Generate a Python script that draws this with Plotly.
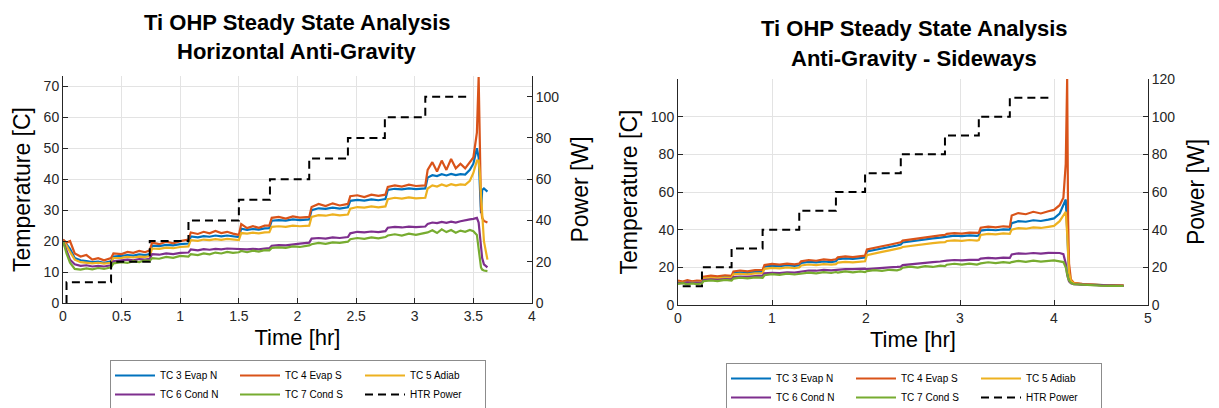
import plotly.graph_objects as go

# ---------------- Left chart: Horizontal Anti-Gravity ----------------
t_L = [0.00, 0.03, 0.06, 0.10, 0.15, 0.20, 0.25, 0.30, 0.35, 0.41,
       0.43, 0.50, 0.55, 0.60, 0.65, 0.70, 0.74, 0.76, 0.82, 0.88,
       0.94, 1.00, 1.07, 1.09, 1.15, 1.20, 1.25, 1.30, 1.35, 1.40,
       1.45, 1.50, 1.52, 1.57, 1.62, 1.67, 1.72, 1.76, 1.78, 1.84,
       1.90, 1.96, 2.02, 2.10, 2.12, 2.18, 2.24, 2.30, 2.36, 2.43,
       2.45, 2.51, 2.57, 2.63, 2.69, 2.75, 2.77, 2.83, 2.89, 2.95,
       3.01, 3.09, 3.11, 3.15, 3.19, 3.23, 3.27, 3.31, 3.35, 3.39,
       3.43, 3.47, 3.50, 3.53, 3.545, 3.555, 3.565, 3.575, 3.59, 3.62]

tc3_L = [20.5, 19.0, 17.5, 14.5, 13.8, 13.5, 13.2, 13.4, 13.0, 13.5,
         15.0, 15.2, 15.5, 15.3, 15.7, 15.5, 15.8, 18.5, 18.4, 18.8,
         18.6, 19.0, 19.2, 21.5, 21.2, 21.6, 21.4, 21.8, 21.5, 21.8,
         21.6, 21.3, 24.0, 23.6, 23.9, 23.7, 24.1, 24.2, 26.6, 26.8,
         26.6, 27.0, 26.8, 27.0, 30.0, 30.6, 30.4, 30.8, 30.5, 30.9,
         33.0, 33.3, 33.1, 33.5, 33.2, 33.6, 36.5, 36.9, 36.7, 37.0,
         36.8, 37.0, 40.5, 41.3, 41.0, 41.6, 41.2, 41.7, 41.3, 41.6,
         41.5, 43.0, 45.0, 50.0, 47.0, 40.0, 29.0, 36.5, 37.0, 36.0]

tc4_L = [20.5, 19.5, 20.0, 16.0, 15.0, 15.5, 14.0, 14.5, 13.8, 14.5,
         16.0, 15.8, 16.5, 16.2, 16.8, 16.4, 17.0, 19.5, 19.0, 19.8,
         19.3, 20.0, 20.5, 22.8, 22.3, 23.0, 22.5, 23.3, 22.6, 23.0,
         22.4, 22.0, 25.5, 24.2, 24.8, 24.3, 25.0, 25.0, 27.5, 27.8,
         27.3, 28.0, 27.6, 27.8, 31.0, 32.0, 31.3, 32.2, 31.5, 32.0,
         34.5, 34.8, 34.2, 35.0, 34.6, 35.0, 37.5, 38.0, 37.6, 38.2,
         37.8, 38.0, 43.0, 45.5, 42.5, 46.0, 43.0, 46.5, 43.5, 45.0,
         43.5, 45.5, 47.0, 55.0, 73.0, 52.0, 31.0, 27.5, 26.5, 26.0]

tc5_L = [20.0, 18.5, 16.5, 14.0, 13.2, 13.0, 12.8, 13.0, 12.7, 13.0,
         14.5, 14.6, 14.9, 14.7, 15.0, 14.9, 15.1, 17.6, 17.5, 17.9,
         17.7, 18.1, 18.3, 20.3, 20.1, 20.5, 20.3, 20.6, 20.4, 20.7,
         20.5, 20.3, 22.6, 22.4, 22.7, 22.5, 22.8, 22.9, 24.6, 24.8,
         24.6, 25.0, 24.8, 25.0, 27.8, 28.4, 28.2, 28.6, 28.3, 28.6,
         30.5, 31.0, 30.8, 31.2, 30.9, 31.2, 33.5, 34.0, 33.7, 34.1,
         33.8, 34.0, 37.0, 38.0, 37.6, 38.3, 37.8, 38.4, 38.0, 38.3,
         38.2, 39.5, 42.0, 46.0, 46.0, 42.0, 35.0, 28.0, 20.0, 14.0]

tc6_L = [20.0, 17.0, 14.0, 12.5, 12.0, 12.2, 11.8, 12.0, 11.8, 12.2,
         13.5, 13.8, 14.0, 13.8, 14.2, 14.0, 14.3, 15.8, 15.6, 16.0,
         15.8, 16.2, 16.3, 17.3, 17.0, 17.4, 17.2, 17.5, 17.3, 17.6,
         17.5, 17.4, 17.6, 17.3, 17.5, 17.3, 17.6, 17.7, 18.5, 18.7,
         18.6, 19.0, 19.2, 19.5, 20.8, 21.0, 20.8, 21.2, 21.0, 21.3,
         22.5, 23.0, 22.8, 23.1, 22.9, 23.2, 24.3, 24.6, 24.4, 24.7,
         24.5, 24.7, 25.5, 26.0, 25.8, 26.2, 25.9, 26.3, 26.0, 26.4,
         26.6, 27.0, 27.2, 27.5, 26.0, 22.0, 17.0, 14.5, 12.5, 11.5]

tc7_L = [20.0, 16.0, 13.0, 11.0, 10.8, 11.2, 10.9, 11.3, 11.0, 11.5,
         12.8, 13.2, 13.0, 13.5, 13.2, 13.8, 13.6, 14.5, 14.3, 14.9,
         14.6, 15.2, 15.0, 15.8, 15.5, 16.0, 15.7, 16.3, 16.0, 16.5,
         16.2, 16.4, 16.8, 16.4, 16.9, 16.6, 17.1, 17.0, 17.8, 18.0,
         17.8, 18.3, 18.1, 18.6, 19.0, 19.4, 19.1, 19.6, 19.4, 19.8,
         20.6, 21.0, 20.7, 21.2, 20.9, 21.3, 21.8, 22.2, 21.8, 22.4,
         22.0, 22.5, 22.8, 23.5, 22.6, 23.8, 22.9, 23.6, 22.7, 23.4,
         23.0, 23.6, 23.2, 22.0, 18.0, 14.0, 11.5, 10.8, 10.5, 10.3]

pw_start_L = [0.03, 0.41, 0.74, 1.07, 1.50, 1.765, 2.10, 2.43, 2.745, 3.09]
pw_level_L = [10, 20, 30, 40, 50, 60, 70, 80, 90, 100]
pw_end_L = 3.445

# ---------------- Right chart: Anti-Gravity - Sideways ----------------
t_R = [0.00, 0.05, 0.10, 0.15, 0.20, 0.255, 0.27, 0.35, 0.42, 0.50,
       0.57, 0.59, 0.66, 0.74, 0.82, 0.90, 0.92, 1.00, 1.08, 1.16,
       1.24, 1.29, 1.31, 1.39, 1.47, 1.55, 1.63, 1.68, 1.70, 1.78,
       1.86, 1.94, 1.99, 2.01, 2.09, 2.17, 2.25, 2.33, 2.37, 2.39,
       2.47, 2.55, 2.63, 2.71, 2.79, 2.84, 2.86, 2.94, 3.02, 3.10,
       3.18, 3.20, 3.22, 3.30, 3.38, 3.46, 3.53, 3.55, 3.62, 3.70,
       3.78, 3.86, 3.94, 4.00, 4.06, 4.10, 4.125, 4.14, 4.15, 4.16,
       4.18, 4.21, 4.30, 4.40, 4.50, 4.60, 4.74]

tc3_R = [12.5, 12.2, 12.7, 12.3, 12.6, 12.4, 14.5, 15.0, 14.7, 15.2,
         15.0, 17.0, 17.4, 17.1, 17.6, 17.7, 20.4, 20.9, 20.6, 21.1,
         20.8, 21.1, 22.3, 22.9, 22.6, 23.1, 22.8, 23.2, 24.4, 24.8,
         24.5, 25.0, 25.2, 28.5, 29.4, 30.1, 30.8, 31.6, 32.1, 33.2,
         33.8, 34.4, 34.8, 35.4, 35.8, 36.0, 36.4, 36.8, 36.6, 37.0,
         36.7, 37.0, 39.5, 40.0, 39.7, 40.2, 40.0, 43.5, 44.5, 44.2,
         45.0, 44.6, 45.3, 46.0, 48.5, 53.0, 56.0, 40.0, 24.0, 16.0,
         12.5, 11.5, 11.0, 10.7, 10.5, 10.4, 10.3]

tc4_R = [13.0, 12.5, 13.2, 12.6, 13.0, 12.8, 15.0, 15.6, 15.2, 15.8,
         15.5, 17.8, 18.3, 17.9, 18.5, 18.6, 21.2, 21.8, 21.4, 22.0,
         21.6, 22.0, 23.2, 23.9, 23.5, 24.2, 23.8, 24.3, 25.3, 25.8,
         25.4, 26.0, 26.2, 29.5, 30.5, 31.2, 32.0, 32.8, 33.3, 34.2,
         34.8, 35.5, 35.9, 36.5, 37.0, 37.2, 37.8, 38.2, 37.9, 38.4,
         38.0, 38.3, 41.0, 41.6, 41.2, 41.8, 41.5, 47.5, 48.8, 48.2,
         49.5, 48.6, 49.8, 50.5, 53.0, 57.0, 75.0, 120.0, 45.0, 22.0,
         13.5, 11.8, 11.2, 10.8, 10.6, 10.5, 10.4]

tc5_R = [12.0, 11.8, 12.2, 11.9, 12.1, 12.0, 14.0, 14.4, 14.1, 14.6,
         14.4, 16.3, 16.6, 16.3, 16.8, 16.9, 19.2, 19.7, 19.4, 19.9,
         19.6, 19.9, 21.0, 21.5, 21.2, 21.7, 21.4, 21.7, 22.5, 22.9,
         22.6, 23.0, 23.2, 26.5, 27.5, 28.2, 29.0, 29.8, 30.3, 30.8,
         31.4, 31.9, 32.4, 32.9, 33.2, 33.4, 34.0, 34.3, 34.1, 34.5,
         34.2, 34.5, 37.2, 37.8, 37.5, 38.0, 37.8, 40.0, 40.8, 40.5,
         41.2, 40.9, 41.5, 42.0, 44.5, 48.0, 49.5, 38.0, 24.0, 17.0,
         12.8, 11.5, 11.0, 10.7, 10.5, 10.4, 10.3]

tc6_R = [11.8, 11.6, 12.0, 11.7, 11.9, 11.8, 13.2, 13.6, 13.4, 13.8,
         13.6, 14.8, 15.1, 15.0, 15.4, 15.6, 16.8, 17.1, 17.0, 17.4,
         17.2, 17.5, 18.0, 18.3, 18.2, 18.6, 18.4, 18.7, 18.9, 19.1,
         19.0, 19.3, 19.3, 19.0, 19.4, 19.7, 20.0, 20.2, 20.4, 21.2,
         21.7, 22.1, 22.4, 22.8, 23.1, 23.2, 23.6, 23.9, 23.7, 24.0,
         23.8, 24.0, 24.6, 25.0, 24.8, 25.2, 25.0, 26.8, 27.4, 27.2,
         27.6, 27.3, 27.7, 27.8, 27.6, 27.0, 22.0, 16.0, 14.0, 12.5,
         11.5, 11.0, 10.8, 10.6, 10.4, 10.3, 10.2]

tc7_R = [11.2, 11.6, 11.0, 11.5, 11.1, 11.4, 12.6, 13.1, 12.7, 13.3,
         12.9, 14.0, 14.5, 14.1, 14.7, 14.4, 15.8, 16.4, 16.0, 16.7,
         16.2, 16.6, 16.6, 17.2, 16.8, 17.4, 17.0, 17.5, 17.2, 17.8,
         17.3, 17.9, 17.5, 18.0, 18.5, 18.1, 18.7, 18.4, 19.0, 19.8,
         20.4, 19.9, 20.6, 20.2, 20.9, 20.6, 21.4, 21.9, 21.4, 22.0,
         21.5, 22.0, 22.1, 22.7, 22.2, 22.8, 22.4, 22.8, 23.4, 22.9,
         23.6, 23.0, 23.5, 23.7, 23.2, 22.8, 20.0, 15.5, 14.2, 13.0,
         11.8, 11.0, 10.7, 10.5, 10.3, 10.2, 10.1]

pw_start_R = [0.05, 0.255, 0.57, 0.90, 1.29, 1.68, 1.99, 2.37, 2.84, 3.20, 3.53]
pw_level_R = [10, 20, 30, 40, 50, 60, 70, 80, 90, 100, 110]
pw_end_R = 3.99

names = ["TC 3 Evap N", "TC 4 Evap S", "TC 5 Adiab", "TC 6 Cond N", "TC 7 Cond S"]
colors = ["#0072BD", "#D95319", "#EDB120", "#7E2F8E", "#77AC30"]
groups = ["g1", "g2", "g3", "g1", "g2"]

FONT = "Liberation Sans, Arial, Helvetica, sans-serif"
TXT = "#262626"

fig = go.Figure()


def add_panel(t, series, pw_start, pw_level, pw_end, xa, ya, ya2, leg, start_zero):
    for nm, col, grp, vals in zip(names, colors, groups, series):
        fig.add_trace(go.Scatter(x=t, y=vals, mode="lines", name=nm,
                                 line=dict(color=col, width=2.2),
                                 xaxis=xa, yaxis=ya, legend=leg, legendgroup=grp))
    px = list(pw_start) + [pw_end]
    py = list(pw_level) + [pw_level[-1]]
    if start_zero:
        px = [pw_start[0]] + px
        py = [0] + py
    fig.add_trace(go.Scatter(x=px, y=py, mode="lines", name="HTR Power",
                             line=dict(color="black", width=2, dash="8px,5px", shape="hv"),
                             xaxis=xa, yaxis=ya2, legend=leg, legendgroup="g3"))


add_panel(t_L, [tc3_L, tc4_L, tc5_L, tc6_L, tc7_L], pw_start_L, pw_level_L, pw_end_L,
          "x", "y", "y2", "legend", True)
add_panel(t_R, [tc3_R, tc4_R, tc5_R, tc6_R, tc7_R], pw_start_R, pw_level_R, pw_end_R,
          "x2", "y3", "y4", "legend2", False)

# page body has an 8px margin: figure is drawn 8px in from the window corner
OFF = 8
W, H = 1211, 400


def fx(s):
    return (s - OFF) / W


def fy(s):
    return (H - (s - OFF)) / H


L_dom_x = [fx(63), fx(532)]
L_dom_y = [fy(303), fy(76)]
R_dom_x = [fx(678), fx(1148)]
R_dom_y = [fy(305), fy(79)]

axis_common = dict(showline=True, linecolor=TXT, linewidth=1, ticks="inside", ticklen=5,
                   tickcolor=TXT, tickfont=dict(family=FONT, size=14, color=TXT),
                   zeroline=False, gridcolor="#e3e3e3", gridwidth=1, automargin=False)
xt_font = dict(family=FONT, size=22, color="black")
yt_font = dict(family=FONT, size=23, color="black")

leg_common = dict(orientation="h", traceorder="grouped", xanchor="center", yanchor="top",
                  bordercolor="#8c8c8c", borderwidth=1, bgcolor="white",
                  font=dict(family=FONT, size=10, color="black"),
                  itemwidth=40, tracegroupgap=0, entrywidth=70, entrywidthmode="pixels")

fig.update_layout(
    width=W, height=H, margin=dict(l=0, r=0, t=0, b=0, autoexpand=False),
    paper_bgcolor="white", plot_bgcolor="white", showlegend=True,
    xaxis=dict(domain=L_dom_x, anchor="y", range=[0, 4], dtick=0.5, showgrid=True,
               title=dict(text="Time [hr]", font=xt_font, standoff=6), **axis_common),
    yaxis=dict(domain=L_dom_y, anchor="x", range=[0, 110 / 1.5], dtick=10, showgrid=True,
               title=dict(text="Temperature [C]", font=yt_font, standoff=6), **axis_common),
    yaxis2=dict(overlaying="y", anchor="x", side="right", range=[0, 110], dtick=20,
                showgrid=False, title=dict(text="Power [W]", font=yt_font, standoff=13),
                **axis_common),
    xaxis2=dict(domain=R_dom_x, anchor="y3", range=[0, 5], dtick=1, showgrid=True,
                title=dict(text="Time [hr]", font=xt_font, standoff=6), **axis_common),
    yaxis3=dict(domain=R_dom_y, anchor="x2", range=[0, 120], tickvals=[0, 20, 40, 60, 80, 100],
                showgrid=True, title=dict(text="Temperature [C]", font=yt_font, standoff=6),
                **axis_common),
    yaxis4=dict(overlaying="y3", anchor="x2", side="right", range=[0, 120], dtick=20,
                showgrid=False, title=dict(text="Power [W]", font=yt_font, standoff=13),
                **axis_common),
    legend=dict(x=fx(298), y=fy(360), **leg_common),
    legend2=dict(x=fx(914), y=fy(363), **leg_common),
)

tfont = dict(family=FONT, size=22, color="black")
for xc, y1, y2, sub in [(297, 22, 52, "Horizontal Anti-Gravity"),
                        (914, 28, 58, "Anti-Gravity - Sideways")]:
    fig.add_annotation(text="<b>Ti OHP Steady State Analysis</b>", x=fx(xc), y=fy(y1),
                       xref="paper", yref="paper", showarrow=False, font=tfont,
                       xanchor="center", yanchor="middle")
    fig.add_annotation(text="<b>" + sub + "</b>", x=fx(xc), y=fy(y2),
                       xref="paper", yref="paper", showarrow=False, font=tfont,
                       xanchor="center", yanchor="middle")

fig.write_html("out.html")
